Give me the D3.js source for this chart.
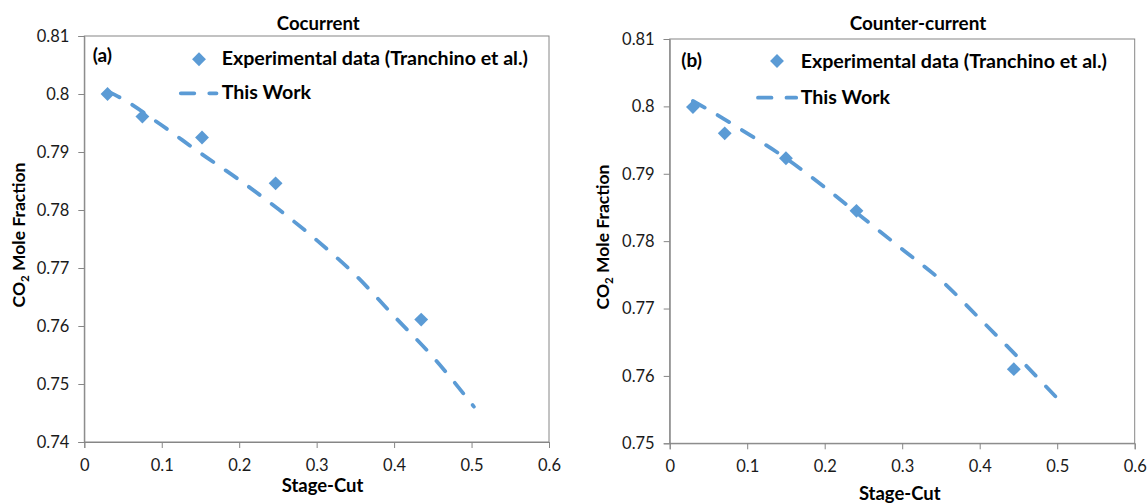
<!DOCTYPE html>
<html>
<head>
<meta charset="utf-8">
<script src="https://cdn.jsdelivr.net/npm/d3@7"></script>
<style>
  html, body { margin: 0; padding: 0; background: #fff; }
  svg { display: block; font-family: Lato, "Open Sans", sans-serif; }
</style>
</head>
<body>
<svg id="chart" width="1148" height="504"></svg>
<script>
// ---------------- DATA ----------------
const titleA = "Cocurrent";
const titleB = "Counter-current";
const panelLabelA = "(a)";
const panelLabelB = "(b)";
const xLabel = "Stage-Cut";
const legendExp = "Experimental data (Tranchino et al.)";
const legendModel = "This Work";

// Panel (a) – Cocurrent
const expStageCutA = [0.030, 0.075, 0.152, 0.247, 0.435];
const expCO2A      = [0.8000, 0.7961, 0.7925, 0.7846, 0.7611];
const modelStageCutA = [0.03, 0.05, 0.10, 0.15, 0.20, 0.25, 0.30, 0.35, 0.40, 0.45, 0.503];
const modelCO2A      = [0.8005, 0.7991, 0.7946, 0.7898, 0.7852, 0.7802, 0.7748, 0.7688, 0.7617, 0.7547, 0.7461];

// Panel (b) – Counter-current
const expStageCutB = [0.030, 0.071, 0.150, 0.241, 0.444];
const expCO2B      = [0.7999, 0.7960, 0.7923, 0.7845, 0.7610];
const modelStageCutB = [0.03, 0.05, 0.10, 0.15, 0.20, 0.25, 0.30, 0.35, 0.40, 0.45, 0.504];
const modelCO2B      = [0.8008, 0.7995, 0.7960, 0.7923, 0.7880, 0.7834, 0.7788, 0.7742, 0.7685, 0.7627, 0.7562];

// Axis ticks
const xTicks  = [0, 0.1, 0.2, 0.3, 0.4, 0.5, 0.6];
const yTicksA = [0.74, 0.75, 0.76, 0.77, 0.78, 0.79, 0.80, 0.81];
const yTicksB = [0.75, 0.76, 0.77, 0.78, 0.79, 0.80, 0.81];

// ---------------- STYLE / LAYOUT ----------------
const BLUE = "#5B9BD5";
const AXIS = "#868686";
const TEXT = "#000";

const panels = [
  {
    title: titleA, tag: panelLabelA,
    expX: expStageCutA, expY: expCO2A, modX: modelStageCutA, modY: modelCO2A,
    yTicks: yTicksA, yDomain: [0.74, 0.81],
    left: 84.3, right: 549, top: 36, bottom: 442,
    titleX: 318.3, titleY: 30,
    xLabX: 322.5, xLabY: 491.5,
    yLabX: 24.5, yLabY: 235,
    tagX: 92.7, tagY: 62,
    legMarkX: 199, legMarkY: 59.3, legTextX: 221.7, legTextY: 65,
    legLineX0: 180.8, legLineX1: 216.5, legLineY: 93.3, legText2Y: 99
  },
  {
    title: titleB, tag: panelLabelB,
    expX: expStageCutB, expY: expCO2B, modX: modelStageCutB, modY: modelCO2B,
    yTicks: yTicksB, yDomain: [0.75, 0.81],
    left: 669.7, right: 1134.7, top: 39, bottom: 443.3,
    titleX: 918, titleY: 30,
    xLabX: 899.7, xLabY: 499.5,
    yLabX: 608.5, yLabY: 237,
    tagX: 681.3, tagY: 67,
    legMarkX: 777, legMarkY: 61, legTextX: 800.7, legTextY: 67.7,
    legLineX0: 758, legLineX1: 796.2, legLineY: 97.7, legText2Y: 104
  }
];

const svg = d3.select("#chart");
const fmt = d => String(+d.toFixed(2));
const diamond = d3.symbol().type(d3.symbolSquare).size(96);

function fitWidth(sel, target) {
  const w = sel.node().getComputedTextLength();
  const fs = parseFloat(sel.attr("font-size"));
  sel.attr("font-size", (fs * target / w).toFixed(2));
}

panels.forEach(p => {
  const x = d3.scaleLinear().domain([0, 0.6]).range([p.left, p.right]);
  const y = d3.scaleLinear().domain(p.yDomain).range([p.bottom, p.top]);
  const g = svg.append("g");

  // plot-area border
  g.append("rect")
    .attr("x", p.left).attr("y", p.top)
    .attr("width", p.right - p.left).attr("height", p.bottom - p.top)
    .attr("fill", "none").attr("stroke", AXIS).attr("stroke-width", 1);

  // axes
  const xAxis = d3.axisBottom(x).tickValues(xTicks).tickFormat(fmt).tickSize(6).tickPadding(11);
  const yAxis = d3.axisLeft(y).tickValues(p.yTicks).tickFormat(fmt).tickSize(6).tickPadding(9);

  const gx = g.append("g").attr("transform", `translate(0,${p.bottom})`).call(xAxis);
  const gy = g.append("g").attr("transform", `translate(${p.left},0)`).call(yAxis);
  [gx, gy].forEach(a => {
    a.attr("font-size", 16.5).attr("font-family", "Lato, 'Open Sans', sans-serif");
    a.select(".domain").attr("stroke", AXIS).attr("stroke-width", 1);
    a.selectAll(".tick line").attr("stroke", AXIS).attr("stroke-width", 1);
    a.selectAll(".tick text").attr("fill", "#1a1a1a");
  });

  // model line (dashed)
  const line = d3.line().x(d => x(d[0])).y(d => y(d[1])).curve(d3.curveMonotoneX);
  g.append("path")
    .datum(p.modX.map((v, i) => [v, p.modY[i]]))
    .attr("d", line)
    .attr("fill", "none").attr("stroke", BLUE).attr("stroke-width", 3.8)
    .attr("stroke-dasharray", "13.5,15").attr("stroke-linecap", "round");

  // experimental markers
  g.selectAll("path.pt")
    .data(p.expX.map((v, i) => [v, p.expY[i]]))
    .join("path").attr("class", "pt")
    .attr("d", diamond)
    .attr("transform", d => `translate(${x(d[0])},${y(d[1])}) rotate(45)`)
    .attr("fill", BLUE);

  // title
  const t = g.append("text").text(p.title)
    .attr("x", p.titleX).attr("y", p.titleY).attr("text-anchor", "middle")
    .attr("font-weight", "bold").attr("font-size", 16).attr("fill", TEXT);
  fitWidth(t, p.title === titleA ? 83 : 136.6);

  // x label
  const xl = g.append("text").text(xLabel)
    .attr("x", p.xLabX).attr("y", p.xLabY).attr("text-anchor", "middle")
    .attr("font-weight", "bold").attr("font-size", 16).attr("fill", TEXT);
  fitWidth(xl, 81.7);

  // y label
  const yl = g.append("text")
    .attr("transform", `translate(${p.yLabX},${p.yLabY}) rotate(-90)`)
    .attr("text-anchor", "middle")
    .attr("font-weight", "bold").attr("font-size", 17.5).attr("fill", TEXT);
  yl.append("tspan").text("CO");
  yl.append("tspan").text("2").attr("font-size", 11.5).attr("dy", 4);
  yl.append("tspan").text(" Mole Fraction").attr("dy", -4);

  // panel tag
  g.append("text").text(p.tag)
    .attr("x", p.tagX).attr("y", p.tagY)
    .attr("font-weight", "bold").attr("font-size", 19).attr("fill", TEXT);

  // legend
  g.append("path").attr("d", diamond)
    .attr("transform", `translate(${p.legMarkX},${p.legMarkY}) rotate(45)`)
    .attr("fill", BLUE);
  const lt = g.append("text").text(legendExp)
    .attr("x", p.legTextX).attr("y", p.legTextY)
    .attr("font-weight", "bold").attr("font-size", 16).attr("fill", TEXT);
  fitWidth(lt, 306.7);
  g.append("line")
    .attr("x1", p.legLineX0).attr("x2", p.legLineX1)
    .attr("y1", p.legLineY).attr("y2", p.legLineY)
    .attr("stroke", BLUE).attr("stroke-width", 3.8)
    .attr("stroke-dasharray", "13.5,15").attr("stroke-linecap", "round");
  g.append("text").text(legendModel)
    .attr("x", p.legTextX).attr("y", p.legText2Y)
    .attr("font-weight", "bold").attr("font-size", lt.attr("font-size")).attr("fill", TEXT);
});
</script>
</body>
</html>
